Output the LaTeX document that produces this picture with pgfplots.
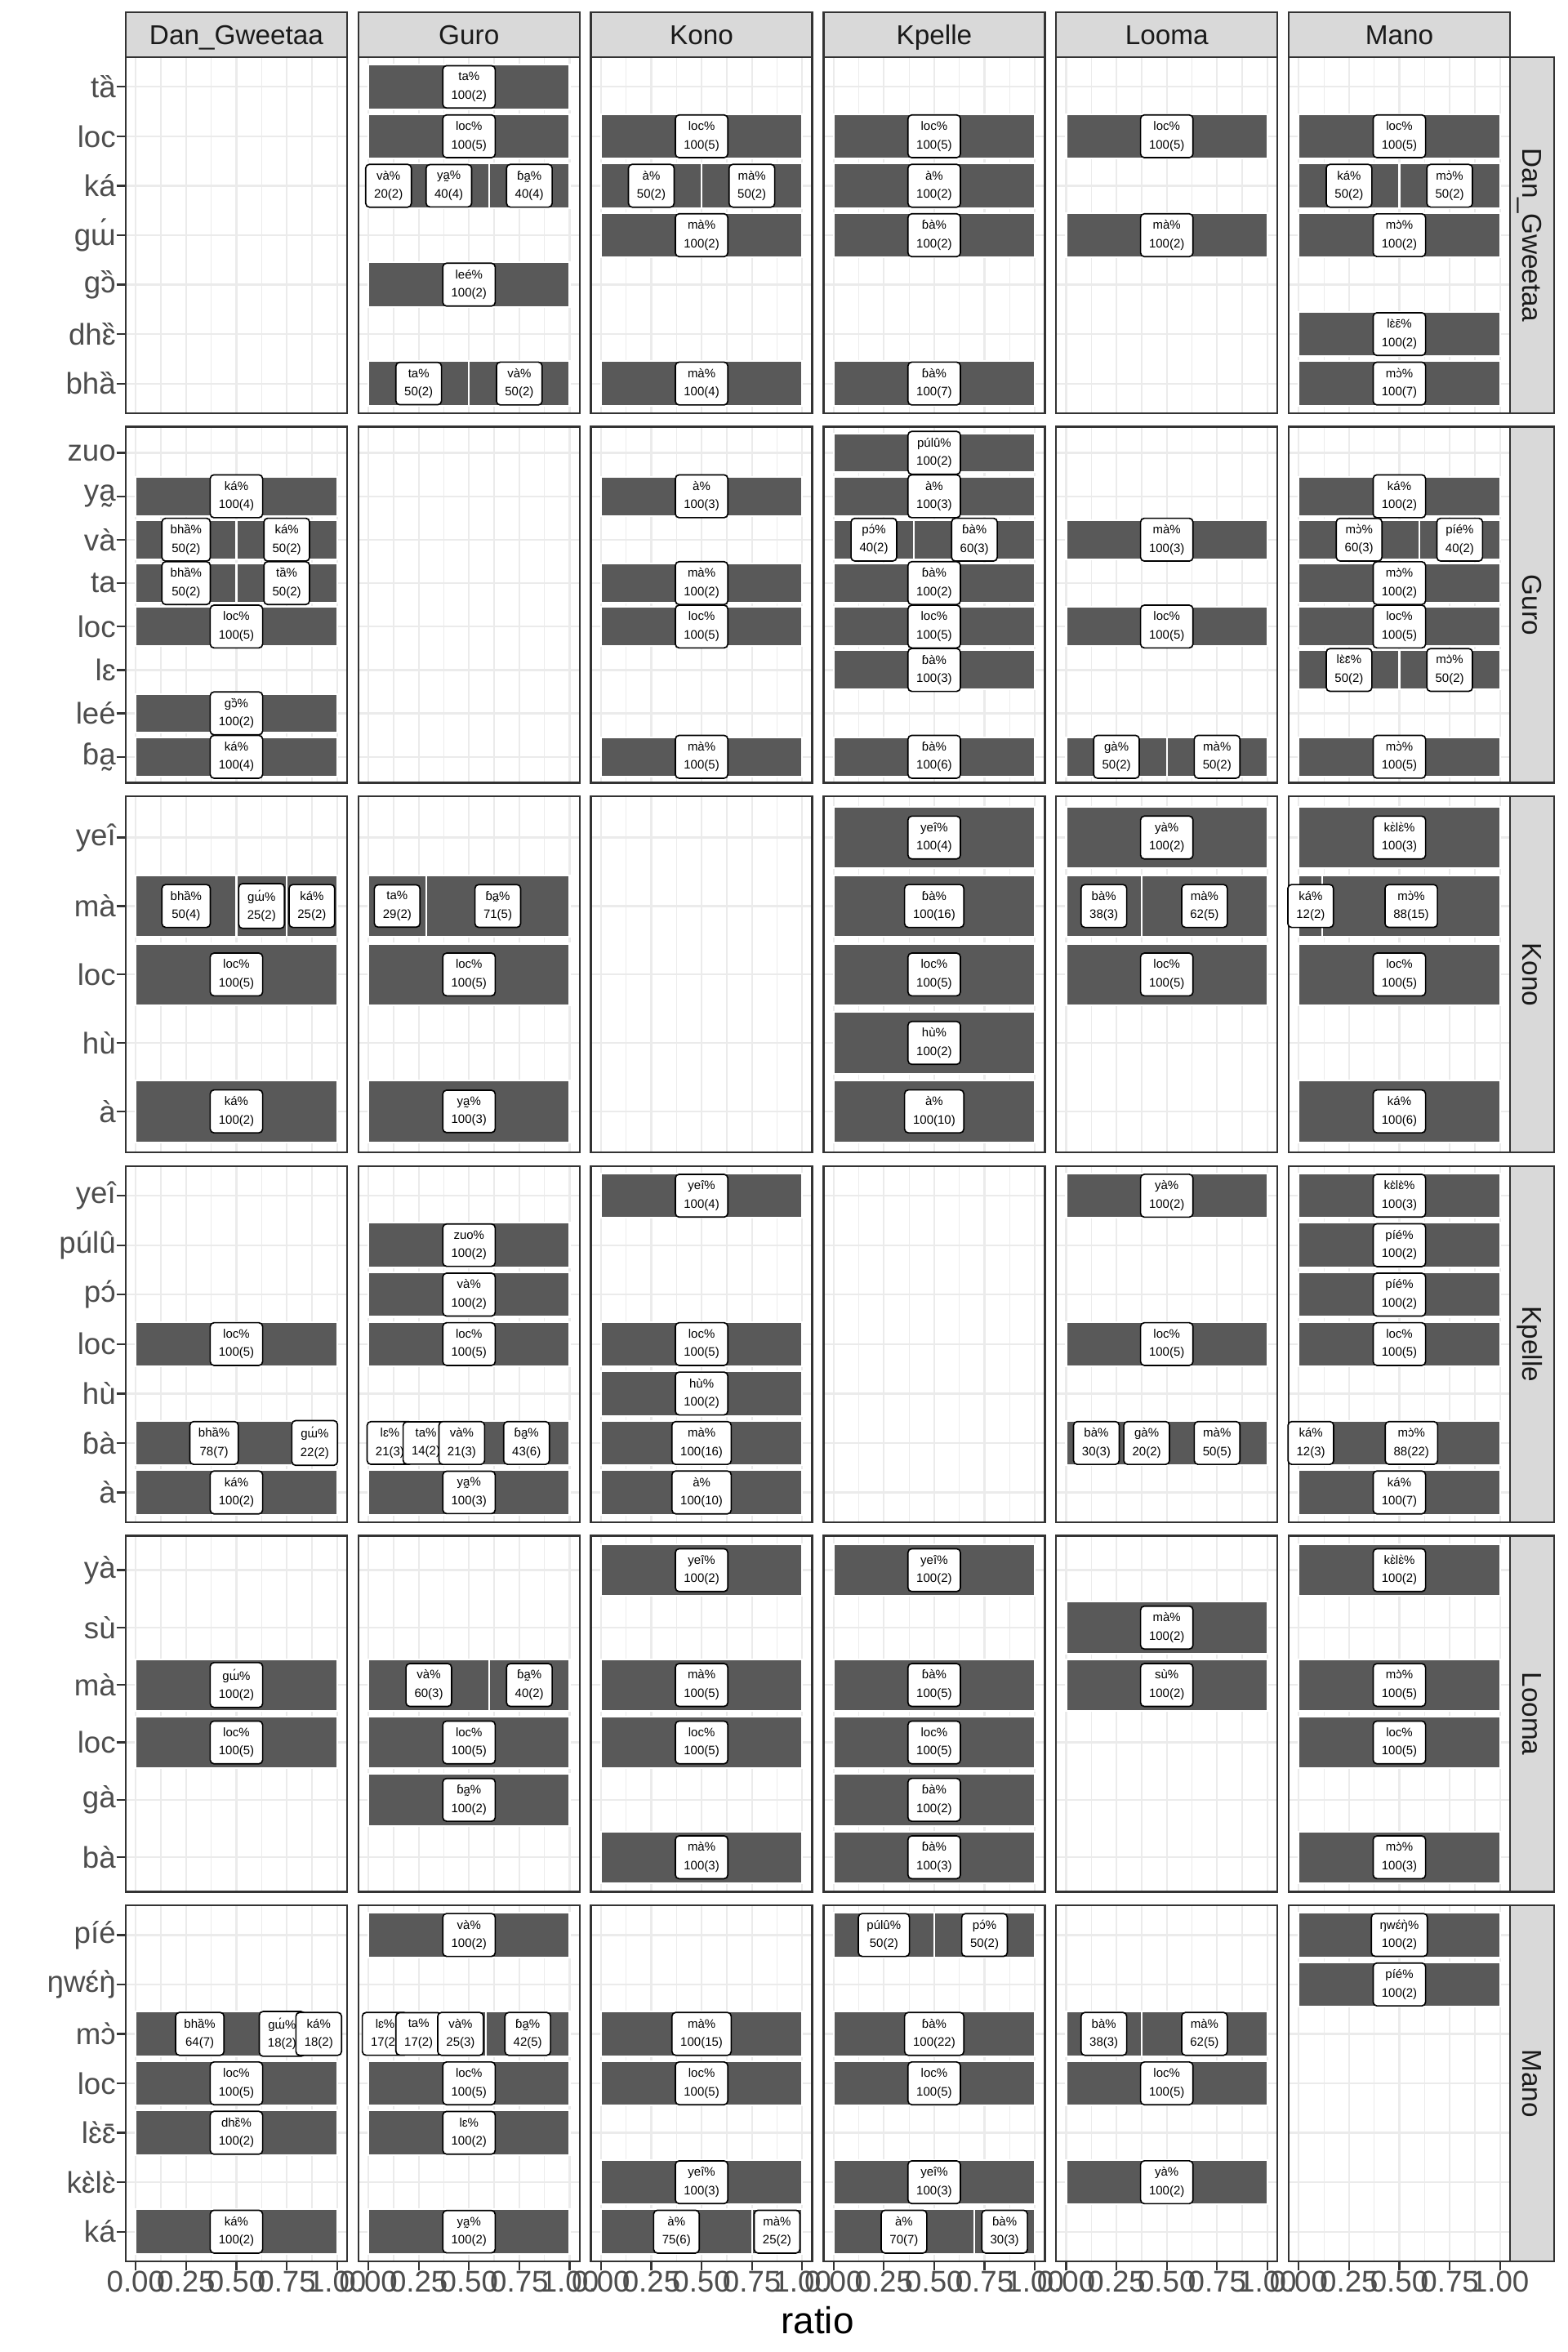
\documentclass[border=0pt]{standalone}
\usepackage{fontspec}
\setmainfont{Liberation Sans}
\usepackage{pgfplots}
\pgfplotsset{compat=1.18}
\definecolor{grey92}{HTML}{EBEBEB}
\definecolor{grey85}{HTML}{D9D9D9}
\definecolor{grey20}{HTML}{333333}
\definecolor{grey30}{HTML}{4D4D4D}
\definecolor{grey10}{HTML}{1A1A1A}
\definecolor{barfill}{HTML}{595959}
\newcommand\wTA{ta^^^^030f}
\newcommand\wBHA{bha^^^^030f}
\newcommand\wKA{ká}
\newcommand\wGU{gɯ^^^^0301}
\newcommand\wGO{gɔ^^^^030f}
\newcommand\wDHE{dhɛ^^^^030f}
\newcommand\wYA{ya^^^^0330}
\newcommand\wVA{và}
\newcommand\wLEE{leé}
\newcommand\wLE{lɛ}
\newcommand\wBBA{ɓa^^^^0330}
\newcommand\wYEI{yeî}
\newcommand\wMA{mà}
\newcommand\wHU{hù}
\newcommand\wAGR{à}
\newcommand\wPULU{púlû}
\newcommand\wPO{pɔ^^^^0301}
\newcommand\wBBAG{ɓà}
\newcommand\wYAG{yà}
\newcommand\wSU{sù}
\newcommand\wGA{gà}
\newcommand\wBA{bà}
\newcommand\wPIE{píé}
\newcommand\wNWEN{ŋwɛ^^^^0301ŋ^^^^0300}
\newcommand\wMO{mɔ^^^^0300}
\newcommand\wLEEE{lɛ^^^^0300ɛ^^^^0304}
\newcommand\wKELE{kɛ^^^^0300lɛ^^^^0300}
\newcommand\lb[2]{#1\%\\#2}
\pgfplotsset{
  panel/.style={
    scale only axis, width=65.04pt, height=104.64pt, anchor=north west,
    xmin=-0.05, xmax=1.05, ymin=0.4,
    xtick={0,0.25,0.5,0.75,1}, minor xtick={0.125,0.375,0.625,0.875},
    xticklabels={}, yticklabels={},
    xmajorgrids, xminorgrids, ymajorgrids,
    major grid style={draw=grey92, line width=0.55pt},
    minor grid style={draw=grey92, line width=0.3pt},
    axis line style={draw=grey20, line width=0.55pt},
    tick align=outside, major tick length=2.75pt, minor tick length=0pt,
    xtick style={draw=none}, ytick style={draw=none},
    xtick pos=bottom, ytick pos=left,
    tick label style={font=\fontsize{8.8}{10}\selectfont, text=grey30},
    yticklabel style={inner sep=0pt, anchor=east},
    xticklabel style={inner sep=0pt, anchor=north},
  },
  leftcol/.style={yticklabels={#1}, ytick style={draw=grey20, line width=0.55pt}},
  bottomrow/.style={xticklabels={0.00,0.25,0.50,0.75,1.00}, xtick style={draw=grey20, line width=0.55pt}},
  bars/.style={xbar, bar width=0.9, bar shift=0pt, fill=barfill, draw=white, line width=0.5pt},
  labs/.style={draw=none, mark=none, nodes near coords, point meta=explicit symbolic,
    nodes near coords align=center,
    every node near coord/.append style={font=\fontsize{3.6}{5.4}\selectfont, fill=white, draw=black,
      rounded corners=1.1pt, inner xsep=2.5pt, inner ysep=1.9pt, align=center, text=black, line width=0.4pt, anchor=center}},
}
\begin{document}
\begin{tikzpicture}
\path[use as bounding box] (0pt,0pt) rectangle (460.8pt,-691.2pt);
% ===== Row 1: Dan_Gweetaa (n=7)
\begin{axis}[panel, at={(36.96pt,-16.8pt)}, ymax=7.6, ytick={1,...,7}, leftcol={{\wBHA,\wDHE,\wGO,\wGU,\wKA,loc,\wTA}}]
\end{axis}
\begin{axis}[panel, at={(105.31pt,-16.8pt)}, ymax=7.6, ytick={1,...,7}]
\addplot[bars] coordinates {(1,7) (1,6) (1,5) (0.6,5) (0.2,5) (1,3) (1,1) (0.5,1)};
\addplot[labs] coordinates {(0.5,7) [\lb{ta}{100(2)}] (0.5,6) [\lb{loc}{100(5)}] (0.1,5) [\lb{\wVA}{20(2)}] (0.4,5) [\lb{\wYA}{40(4)}] (0.8,5) [\lb{\wBBA}{40(4)}] (0.5,3) [\lb{\wLEE}{100(2)}] (0.25,1) [\lb{ta}{50(2)}] (0.75,1) [\lb{\wVA}{50(2)}]};
\end{axis}
\begin{axis}[panel, at={(173.66pt,-16.8pt)}, ymax=7.6, ytick={1,...,7}]
\addplot[bars] coordinates {(1,6) (1,5) (0.5,5) (1,4) (1,1)};
\addplot[labs] coordinates {(0.5,6) [\lb{loc}{100(5)}] (0.25,5) [\lb{\wAGR}{50(2)}] (0.75,5) [\lb{\wMA}{50(2)}] (0.5,4) [\lb{\wMA}{100(2)}] (0.5,1) [\lb{\wMA}{100(4)}]};
\end{axis}
\begin{axis}[panel, at={(242.02pt,-16.8pt)}, ymax=7.6, ytick={1,...,7}]
\addplot[bars] coordinates {(1,6) (1,5) (1,4) (1,1)};
\addplot[labs] coordinates {(0.5,6) [\lb{loc}{100(5)}] (0.5,5) [\lb{\wAGR}{100(2)}] (0.5,4) [\lb{\wBBAG}{100(2)}] (0.5,1) [\lb{\wBBAG}{100(7)}]};
\end{axis}
\begin{axis}[panel, at={(310.37pt,-16.8pt)}, ymax=7.6, ytick={1,...,7}]
\addplot[bars] coordinates {(1,6) (1,4)};
\addplot[labs] coordinates {(0.5,6) [\lb{loc}{100(5)}] (0.5,4) [\lb{\wMA}{100(2)}]};
\end{axis}
\begin{axis}[panel, at={(378.72pt,-16.8pt)}, ymax=7.6, ytick={1,...,7}]
\addplot[bars] coordinates {(1,6) (1,5) (0.5,5) (1,4) (1,2) (1,1)};
\addplot[labs] coordinates {(0.5,6) [\lb{loc}{100(5)}] (0.25,5) [\lb{\wKA}{50(2)}] (0.75,5) [\lb{\wMO}{50(2)}] (0.5,4) [\lb{\wMO}{100(2)}] (0.5,2) [\lb{\wLEEE}{100(2)}] (0.5,1) [\lb{\wMO}{100(7)}]};
\end{axis}
% ===== Row 2: Guro (n=8)
\begin{axis}[panel, at={(36.96pt,-125.42pt)}, ymax=8.6, ytick={1,...,8}, leftcol={{\wBBA,\wLEE,\wLE,loc,ta,\wVA,\wYA,zuo}}]
\addplot[bars] coordinates {(1,7) (1,6) (0.5,6) (1,5) (0.5,5) (1,4) (1,2) (1,1)};
\addplot[labs] coordinates {(0.5,7) [\lb{\wKA}{100(4)}] (0.25,6) [\lb{\wBHA}{50(2)}] (0.75,6) [\lb{\wKA}{50(2)}] (0.25,5) [\lb{\wBHA}{50(2)}] (0.75,5) [\lb{\wTA}{50(2)}] (0.5,4) [\lb{loc}{100(5)}] (0.5,2) [\lb{\wGO}{100(2)}] (0.5,1) [\lb{\wKA}{100(4)}]};
\end{axis}
\begin{axis}[panel, at={(105.31pt,-125.42pt)}, ymax=8.6, ytick={1,...,8}]
\end{axis}
\begin{axis}[panel, at={(173.66pt,-125.42pt)}, ymax=8.6, ytick={1,...,8}]
\addplot[bars] coordinates {(1,7) (1,5) (1,4) (1,1)};
\addplot[labs] coordinates {(0.5,7) [\lb{\wAGR}{100(3)}] (0.5,5) [\lb{\wMA}{100(2)}] (0.5,4) [\lb{loc}{100(5)}] (0.5,1) [\lb{\wMA}{100(5)}]};
\end{axis}
\begin{axis}[panel, at={(242.02pt,-125.42pt)}, ymax=8.6, ytick={1,...,8}]
\addplot[bars] coordinates {(1,8) (1,7) (1,6) (0.4,6) (1,5) (1,4) (1,3) (1,1)};
\addplot[labs] coordinates {(0.5,8) [\lb{\wPULU}{100(2)}] (0.5,7) [\lb{\wAGR}{100(3)}] (0.2,6) [\lb{\wPO}{40(2)}] (0.7,6) [\lb{\wBBAG}{60(3)}] (0.5,5) [\lb{\wBBAG}{100(2)}] (0.5,4) [\lb{loc}{100(5)}] (0.5,3) [\lb{\wBBAG}{100(3)}] (0.5,1) [\lb{\wBBAG}{100(6)}]};
\end{axis}
\begin{axis}[panel, at={(310.37pt,-125.42pt)}, ymax=8.6, ytick={1,...,8}]
\addplot[bars] coordinates {(1,6) (1,4) (1,1) (0.5,1)};
\addplot[labs] coordinates {(0.5,6) [\lb{\wMA}{100(3)}] (0.5,4) [\lb{loc}{100(5)}] (0.25,1) [\lb{\wGA}{50(2)}] (0.75,1) [\lb{\wMA}{50(2)}]};
\end{axis}
\begin{axis}[panel, at={(378.72pt,-125.42pt)}, ymax=8.6, ytick={1,...,8}]
\addplot[bars] coordinates {(1,7) (1,6) (0.6,6) (1,5) (1,4) (1,3) (0.5,3) (1,1)};
\addplot[labs] coordinates {(0.5,7) [\lb{\wKA}{100(2)}] (0.3,6) [\lb{\wMO}{60(3)}] (0.8,6) [\lb{\wPIE}{40(2)}] (0.5,5) [\lb{\wMO}{100(2)}] (0.5,4) [\lb{loc}{100(5)}] (0.25,3) [\lb{\wLEEE}{50(2)}] (0.75,3) [\lb{\wMO}{50(2)}] (0.5,1) [\lb{\wMO}{100(5)}]};
\end{axis}
% ===== Row 3: Kono (n=5)
\begin{axis}[panel, at={(36.96pt,-234.05pt)}, ymax=5.6, ytick={1,...,5}, leftcol={{\wAGR,\wHU,loc,\wMA,\wYEI}}]
\addplot[bars] coordinates {(1,4) (0.75,4) (0.5,4) (1,3) (1,1)};
\addplot[labs] coordinates {(0.25,4) [\lb{\wBHA}{50(4)}] (0.625,4) [\lb{\wGU}{25(2)}] (0.875,4) [\lb{\wKA}{25(2)}] (0.5,3) [\lb{loc}{100(5)}] (0.5,1) [\lb{\wKA}{100(2)}]};
\end{axis}
\begin{axis}[panel, at={(105.31pt,-234.05pt)}, ymax=5.6, ytick={1,...,5}]
\addplot[bars] coordinates {(1,4) (0.286,4) (1,3) (1,1)};
\addplot[labs] coordinates {(0.143,4) [\lb{ta}{29(2)}] (0.643,4) [\lb{\wBBA}{71(5)}] (0.5,3) [\lb{loc}{100(5)}] (0.5,1) [\lb{\wYA}{100(3)}]};
\end{axis}
\begin{axis}[panel, at={(173.66pt,-234.05pt)}, ymax=5.6, ytick={1,...,5}]
\end{axis}
\begin{axis}[panel, at={(242.02pt,-234.05pt)}, ymax=5.6, ytick={1,...,5}]
\addplot[bars] coordinates {(1,5) (1,4) (1,3) (1,2) (1,1)};
\addplot[labs] coordinates {(0.5,5) [\lb{\wYEI}{100(4)}] (0.5,4) [\lb{\wBBAG}{100(16)}] (0.5,3) [\lb{loc}{100(5)}] (0.5,2) [\lb{\wHU}{100(2)}] (0.5,1) [\lb{\wAGR}{100(10)}]};
\end{axis}
\begin{axis}[panel, at={(310.37pt,-234.05pt)}, ymax=5.6, ytick={1,...,5}]
\addplot[bars] coordinates {(1,5) (1,4) (0.375,4) (1,3)};
\addplot[labs] coordinates {(0.5,5) [\lb{\wYAG}{100(2)}] (0.1875,4) [\lb{\wBA}{38(3)}] (0.6875,4) [\lb{\wMA}{62(5)}] (0.5,3) [\lb{loc}{100(5)}]};
\end{axis}
\begin{axis}[panel, at={(378.72pt,-234.05pt)}, ymax=5.6, ytick={1,...,5}]
\addplot[bars] coordinates {(1,5) (1,4) (0.118,4) (1,3) (1,1)};
\addplot[labs] coordinates {(0.5,5) [\lb{\wKELE}{100(3)}] (0.059,4) [\lb{\wKA}{12(2)}] (0.559,4) [\lb{\wMO}{88(15)}] (0.5,3) [\lb{loc}{100(5)}] (0.5,1) [\lb{\wKA}{100(6)}]};
\end{axis}
% ===== Row 4: Kpelle (n=7)
\begin{axis}[panel, at={(36.96pt,-342.67pt)}, ymax=7.6, ytick={1,...,7}, leftcol={{\wAGR,\wBBAG,\wHU,loc,\wPO,\wPULU,\wYEI}}]
\addplot[bars] coordinates {(1,4) (1,2) (0.778,2) (1,1)};
\addplot[labs] coordinates {(0.5,4) [\lb{loc}{100(5)}] (0.389,2) [\lb{\wBHA}{78(7)}] (0.889,2) [\lb{\wGU}{22(2)}] (0.5,1) [\lb{\wKA}{100(2)}]};
\end{axis}
\begin{axis}[panel, at={(105.31pt,-342.67pt)}, ymax=7.6, ytick={1,...,7}]
\addplot[bars] coordinates {(1,6) (1,5) (1,4) (1,2) (0.571,2) (0.357,2) (0.214,2) (1,1)};
\addplot[labs] coordinates {(0.5,6) [\lb{zuo}{100(2)}] (0.5,5) [\lb{\wVA}{100(2)}] (0.5,4) [\lb{loc}{100(5)}] (0.107,2) [\lb{\wLE}{21(3)}] (0.286,2) [\lb{ta}{14(2)}] (0.464,2) [\lb{\wVA}{21(3)}] (0.786,2) [\lb{\wBBA}{43(6)}] (0.5,1) [\lb{\wYA}{100(3)}]};
\end{axis}
\begin{axis}[panel, at={(173.66pt,-342.67pt)}, ymax=7.6, ytick={1,...,7}]
\addplot[bars] coordinates {(1,7) (1,4) (1,3) (1,2) (1,1)};
\addplot[labs] coordinates {(0.5,7) [\lb{\wYEI}{100(4)}] (0.5,4) [\lb{loc}{100(5)}] (0.5,3) [\lb{\wHU}{100(2)}] (0.5,2) [\lb{\wMA}{100(16)}] (0.5,1) [\lb{\wAGR}{100(10)}]};
\end{axis}
\begin{axis}[panel, at={(242.02pt,-342.67pt)}, ymax=7.6, ytick={1,...,7}]
\end{axis}
\begin{axis}[panel, at={(310.37pt,-342.67pt)}, ymax=7.6, ytick={1,...,7}]
\addplot[bars] coordinates {(1,7) (1,4) (1,2) (0.5,2) (0.3,2)};
\addplot[labs] coordinates {(0.5,7) [\lb{\wYAG}{100(2)}] (0.5,4) [\lb{loc}{100(5)}] (0.15,2) [\lb{\wBA}{30(3)}] (0.4,2) [\lb{\wGA}{20(2)}] (0.75,2) [\lb{\wMA}{50(5)}]};
\end{axis}
\begin{axis}[panel, at={(378.72pt,-342.67pt)}, ymax=7.6, ytick={1,...,7}]
\addplot[bars] coordinates {(1,7) (1,6) (1,5) (1,4) (1,2) (0.12,2) (1,1)};
\addplot[labs] coordinates {(0.5,7) [\lb{\wKELE}{100(3)}] (0.5,6) [\lb{\wPIE}{100(2)}] (0.5,5) [\lb{\wPIE}{100(2)}] (0.5,4) [\lb{loc}{100(5)}] (0.06,2) [\lb{\wKA}{12(3)}] (0.56,2) [\lb{\wMO}{88(22)}] (0.5,1) [\lb{\wKA}{100(7)}]};
\end{axis}
% ===== Row 5: Looma (n=6)
\begin{axis}[panel, at={(36.96pt,-451.30pt)}, ymax=6.6, ytick={1,...,6}, leftcol={{\wBA,\wGA,loc,\wMA,\wSU,\wYAG}}]
\addplot[bars] coordinates {(1,4) (1,3)};
\addplot[labs] coordinates {(0.5,4) [\lb{\wGU}{100(2)}] (0.5,3) [\lb{loc}{100(5)}]};
\end{axis}
\begin{axis}[panel, at={(105.31pt,-451.30pt)}, ymax=6.6, ytick={1,...,6}]
\addplot[bars] coordinates {(1,4) (0.6,4) (1,3) (1,2)};
\addplot[labs] coordinates {(0.3,4) [\lb{\wVA}{60(3)}] (0.8,4) [\lb{\wBBA}{40(2)}] (0.5,3) [\lb{loc}{100(5)}] (0.5,2) [\lb{\wBBA}{100(2)}]};
\end{axis}
\begin{axis}[panel, at={(173.66pt,-451.30pt)}, ymax=6.6, ytick={1,...,6}]
\addplot[bars] coordinates {(1,6) (1,4) (1,3) (1,1)};
\addplot[labs] coordinates {(0.5,6) [\lb{\wYEI}{100(2)}] (0.5,4) [\lb{\wMA}{100(5)}] (0.5,3) [\lb{loc}{100(5)}] (0.5,1) [\lb{\wMA}{100(3)}]};
\end{axis}
\begin{axis}[panel, at={(242.02pt,-451.30pt)}, ymax=6.6, ytick={1,...,6}]
\addplot[bars] coordinates {(1,6) (1,4) (1,3) (1,2) (1,1)};
\addplot[labs] coordinates {(0.5,6) [\lb{\wYEI}{100(2)}] (0.5,4) [\lb{\wBBAG}{100(5)}] (0.5,3) [\lb{loc}{100(5)}] (0.5,2) [\lb{\wBBAG}{100(2)}] (0.5,1) [\lb{\wBBAG}{100(3)}]};
\end{axis}
\begin{axis}[panel, at={(310.37pt,-451.30pt)}, ymax=6.6, ytick={1,...,6}]
\addplot[bars] coordinates {(1,5) (1,4)};
\addplot[labs] coordinates {(0.5,5) [\lb{\wMA}{100(2)}] (0.5,4) [\lb{\wSU}{100(2)}]};
\end{axis}
\begin{axis}[panel, at={(378.72pt,-451.30pt)}, ymax=6.6, ytick={1,...,6}]
\addplot[bars] coordinates {(1,6) (1,4) (1,3) (1,1)};
\addplot[labs] coordinates {(0.5,6) [\lb{\wKELE}{100(2)}] (0.5,4) [\lb{\wMO}{100(5)}] (0.5,3) [\lb{loc}{100(5)}] (0.5,1) [\lb{\wMO}{100(3)}]};
\end{axis}
% ===== Row 6: Mano (n=7)
\begin{axis}[panel, bottomrow, at={(36.96pt,-559.92pt)}, ymax=7.6, ytick={1,...,7}, leftcol={{\wKA,\wKELE,\wLEEE,loc,\wMO,\wNWEN,\wPIE}}]
\addplot[bars] coordinates {(1,5) (0.818,5) (0.636,5) (1,4) (1,3) (1,1)};
\addplot[labs] coordinates {(0.318,5) [\lb{\wBHA}{64(7)}] (0.727,5) [\lb{\wGU}{18(2)}] (0.909,5) [\lb{\wKA}{18(2)}] (0.5,4) [\lb{loc}{100(5)}] (0.5,3) [\lb{\wDHE}{100(2)}] (0.5,1) [\lb{\wKA}{100(2)}]};
\end{axis}
\begin{axis}[panel, bottomrow, at={(105.31pt,-559.92pt)}, ymax=7.6, ytick={1,...,7}]
\addplot[bars] coordinates {(1,7) (1,5) (0.583,5) (0.333,5) (0.167,5) (1,4) (1,3) (1,1)};
\addplot[labs] coordinates {(0.5,7) [\lb{\wVA}{100(2)}] (0.083,5) [\lb{\wLE}{17(2)}] (0.25,5) [\lb{ta}{17(2)}] (0.458,5) [\lb{\wVA}{25(3)}] (0.792,5) [\lb{\wBBA}{42(5)}] (0.5,4) [\lb{loc}{100(5)}] (0.5,3) [\lb{\wLE}{100(2)}] (0.5,1) [\lb{\wYA}{100(2)}]};
\end{axis}
\begin{axis}[panel, bottomrow, at={(173.66pt,-559.92pt)}, ymax=7.6, ytick={1,...,7}]
\addplot[bars] coordinates {(1,5) (1,4) (1,2) (1,1) (0.75,1)};
\addplot[labs] coordinates {(0.5,5) [\lb{\wMA}{100(15)}] (0.5,4) [\lb{loc}{100(5)}] (0.5,2) [\lb{\wYEI}{100(3)}] (0.375,1) [\lb{\wAGR}{75(6)}] (0.875,1) [\lb{\wMA}{25(2)}]};
\end{axis}
\begin{axis}[panel, bottomrow, at={(242.02pt,-559.92pt)}, ymax=7.6, ytick={1,...,7}]
\addplot[bars] coordinates {(1,7) (0.5,7) (1,5) (1,4) (1,2) (1,1) (0.7,1)};
\addplot[labs] coordinates {(0.25,7) [\lb{\wPULU}{50(2)}] (0.75,7) [\lb{\wPO}{50(2)}] (0.5,5) [\lb{\wBBAG}{100(22)}] (0.5,4) [\lb{loc}{100(5)}] (0.5,2) [\lb{\wYEI}{100(3)}] (0.35,1) [\lb{\wAGR}{70(7)}] (0.85,1) [\lb{\wBBAG}{30(3)}]};
\end{axis}
\begin{axis}[panel, bottomrow, at={(310.37pt,-559.92pt)}, ymax=7.6, ytick={1,...,7}]
\addplot[bars] coordinates {(1,5) (0.375,5) (1,4) (1,2)};
\addplot[labs] coordinates {(0.1875,5) [\lb{\wBA}{38(3)}] (0.6875,5) [\lb{\wMA}{62(5)}] (0.5,4) [\lb{loc}{100(5)}] (0.5,2) [\lb{\wYAG}{100(2)}]};
\end{axis}
\begin{axis}[panel, bottomrow, at={(378.72pt,-559.92pt)}, ymax=7.6, ytick={1,...,7}]
\addplot[bars] coordinates {(1,7) (1,6)};
\addplot[labs] coordinates {(0.5,7) [\lb{\wNWEN}{100(2)}] (0.5,6) [\lb{\wPIE}{100(2)}]};
\end{axis}
% ===== strips
\foreach \x/\t in {36.96/Dan\_Gweetaa, 105.31/Guro, 173.66/Kono, 242.02/Kpelle, 310.37/Looma, 378.72/Mano}{
  \draw[fill=grey85, draw=grey20, line width=0.55pt] (\x pt,-3.6pt) rectangle ({\x pt+65.04pt},-16.8pt);
  \node[font=\fontsize{8}{10}\selectfont, text=grey10, inner sep=0pt, anchor=base] at ({\x pt+32.52pt},-13.05pt) {\t};
}
\foreach \y/\t in {16.8/Dan\_Gweetaa, 125.42/Guro, 234.05/Kono, 342.67/Kpelle, 451.30/Looma, 559.92/Mano}{
  \draw[fill=grey85, draw=grey20, line width=0.55pt] (443.76pt,-\y pt) rectangle (456.72pt,{-\y pt-104.64pt});
  \node[font=\fontsize{8}{10}\selectfont, text=grey10, inner sep=0pt, rotate=-90, anchor=base] at (447.45pt,{-\y pt-52.32pt}) {\t};
}
\node[anchor=base, font=\fontsize{11}{13}\selectfont, inner sep=0pt] at (240.24pt,-685.7pt) {ratio};
\end{tikzpicture}
\end{document}
